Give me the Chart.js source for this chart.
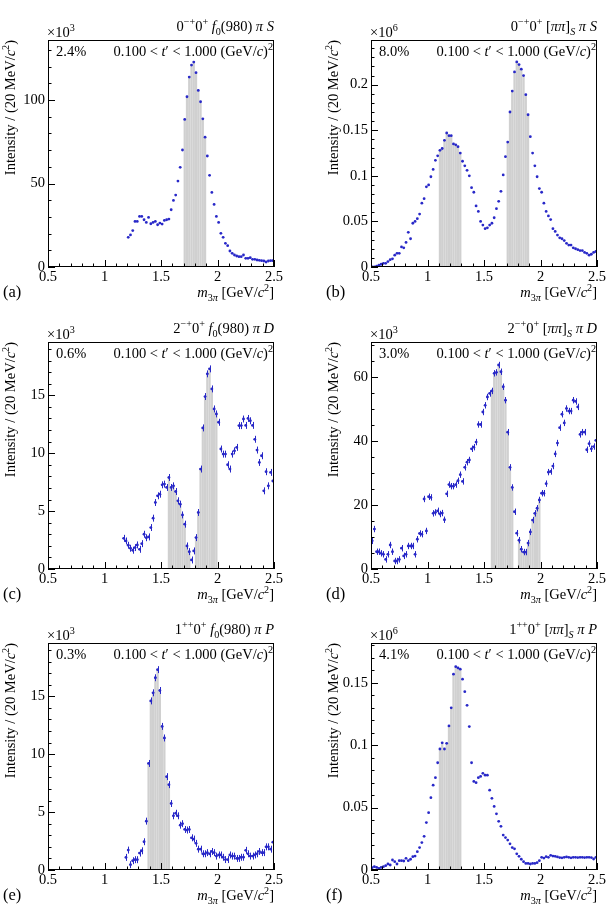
<!DOCTYPE html>
<html>
<head>
<meta charset="utf-8">
<script src="https://cdn.jsdelivr.net/npm/chart.js@4/dist/chart.umd.min.js"></script>
<style>
  body { margin: 0; background: #fff; width: 609px; height: 910px; position: relative; overflow: hidden; }
  canvas { position: absolute; }
</style>
</head>
<body>
<canvas id="pa" width="300" height="302" style="left:0;top:0"></canvas>
<canvas id="pb" width="286" height="302" style="left:323px;top:0"></canvas>
<canvas id="pc" width="300" height="302" style="left:0;top:302px"></canvas>
<canvas id="pd" width="286" height="302" style="left:323px;top:302px"></canvas>
<canvas id="pe" width="300" height="302" style="left:0;top:603px"></canvas>
<canvas id="pf" width="286" height="302" style="left:323px;top:603px"></canvas>
<script>
// bins are 20 MeV wide, values are given from the first filled bin centre on
const binWidth = 0.02;

// (a) 0-+0+ f0(980) pi S, x10^3
const startA = 1.21;
const valuesA = [
  17.8, 19.2, 21.8, 27.3, 27.3,
  30.3, 30.3, 28.3, 26.7, 29.7,
  25.9, 26.7, 27.3, 25.3, 26.3,
  25.7, 27.9, 28.3, 28.7, 34.3,
  39.9, 43.1, 51.5, 59.7, 70.1,
  88.4, 102, 113.8, 121, 122.8,
  116.4, 105.8, 99, 88.8, 77.8,
  66.5, 54.9, 44.7, 37.5, 30.3,
  26.7, 20.2, 17.8, 14.2, 12.8,
  9.6, 8.2, 7.2, 6.6, 6.2,
  6.2, 7.2, 5.2, 5.2, 5.6,
  4.6, 4.6, 4.2, 4.0, 3.8,
  3.6, 3.0, 3.6, 3.8, 3.8
];
const bandsA = [[1.70, 1.90]];

// (b) 0-+0+ [pipi]S pi S, x10^6
const startB = 0.51;
const valuesB = [
  0.000, 0.000, 0.001, 0.002, 0.003,
  0.004, 0.004, 0.006, 0.008, 0.009,
  0.013, 0.015, 0.015, 0.022, 0.021,
  0.027, 0.038, 0.031, 0.048, 0.050,
  0.053, 0.058, 0.070, 0.075, 0.088,
  0.090, 0.099, 0.107, 0.117, 0.122,
  0.128, 0.130, 0.139, 0.147, 0.144,
  0.144, 0.135, 0.134, 0.132, 0.125,
  0.116, 0.111, 0.106, 0.100, 0.087,
  0.082, 0.067, 0.061, 0.050, 0.046,
  0.042, 0.043, 0.046, 0.048, 0.054,
  0.064, 0.072, 0.083, 0.101, 0.121,
  0.137, 0.170, 0.193, 0.214, 0.225,
  0.222, 0.217, 0.210, 0.189, 0.167,
  0.143, 0.125, 0.111, 0.099, 0.086,
  0.082, 0.070, 0.061, 0.056, 0.052,
  0.042, 0.039, 0.035, 0.032, 0.031,
  0.029, 0.026, 0.024, 0.024, 0.021,
  0.020, 0.019, 0.018, 0.018, 0.016,
  0.015, 0.013, 0.014, 0.016, 0.017
];
const bandsB = [[1.10, 1.30], [1.70, 1.90]];

// (c) 2-+0+ f0(980) pi D, x10^3
const startC = 1.17;
const valuesC = [
  2.65, 2.42,
  2.05, 1.79, 1.62, 1.85, 2.08,
  1.70, 2.19, 3.0, 2.7, 2.77,
  3.58, 4.39, 5.74, 6.32, 6.46,
  7.27, 7.33, 7.04, 7.9, 7.04,
  7.18, 6.69, 5.89, 5.6, 4.67,
  3.87, 1.99, 1.5, 0.78, 1.56,
  2.71, 4.88, 8.63, 12.18, 14.89,
  16.85, 17.28, 15.55, 13.82, 13.39,
  12.67, 10.36, 9.92, 9.92, 9.0,
  8.63, 9.92, 10.2, 10.5, 12.38,
  12.38, 12.95, 12.4, 13.0, 12.8,
  12.4, 11.2, 10.27, 9.2, 9.78,
  6.75, 8.4, 7.18, 8.34, 7.6
];
const bandsC = [[1.56, 1.76], [1.80, 2.00]];
const errC = 0.3;

// (d) 2-+0+ [pipi]S pi D, x10^3
const startD = 0.51;
const valuesD = [
  8.8, 12.5, 5.4, 5.4, 4.9,
  4.6, 3.0, 4.6, 7.5, 5.4,
  2.5, 2.5, 3.0, 6.5, 4.1,
  4.6, 7.2, 7.2, 7.2, 4.6,
  9.3, 11.1, 10.9, 21.9, 11.9,
  22.6, 22.4, 17.4, 17.7, 18.2,
  17.2, 17.5, 15.4, 23.5, 26.4,
  25.9, 25.9, 26.4, 27.6, 29.5,
  27.4, 31.8, 33.4, 34.1, 37.6,
  38.1, 39.7, 45.2, 45.2, 49.1,
  51.2, 53.8, 54.9, 55.7, 61.2,
  61.5, 63.8, 61.7, 57.0, 52.8,
  42.8, 31.8, 25.5, 17.9, 11.2,
  9.0, 6.2, 5.3, 5.3, 8.1,
  11.6, 15.3, 17.4, 19.0, 21.6,
  23.7, 23.7, 26.7, 30.3, 30.5,
  32.2, 36.0, 39.4, 44.2, 48.4,
  45.7, 50.2, 49.4, 49.4, 52.8,
  52.4, 50.7, 42.1, 42.8, 42.8,
  37.3, 39.2, 37.6, 38.3, 40.2
];
const bandsD = [[1.56, 1.76], [1.80, 2.00]];
const errD = 1.0;

// (e) 1++0+ f0(980) pi P, x10^3
const startE = 1.19;
const valuesE = [
  1.09,
  1.72, 0.46, 0.80, 0.89, 0.89,
  1.46, 1.66, 2.44, 4.22, 9.2,
  14.6, 15.3, 16.6, 17.3, 15.5,
  12.4, 11.4, 8.06, 7.37, 5.74,
  4.68, 4.9, 4.68, 3.87, 4.0,
  3.5, 3.45, 3.5, 2.78, 2.67,
  2.3, 1.8, 1.8, 1.4, 1.4,
  1.5, 1.4, 1.6, 1.5, 1.2,
  1.3, 1.3, 1.1, 0.9, 0.9,
  1.3, 1.2, 1.2, 1.0, 1.0,
  1.1, 1.1, 1.7, 1.4, 1.2,
  1.2, 1.3, 1.4, 1.6, 1.5,
  1.5, 2.0, 2.0, 1.8, 2.4
];
const bandsE = [[1.38, 1.58]];
const errE = 0.3;

// (f) 1++0+ [pipi]S pi P, x10^6
const startF = 0.51;
const valuesF = [
  0.0019, 0.0027, 0.0021, 0.0013, 0.0021,
  0.0027, 0.0035, 0.0048, 0.0040, 0.0080,
  0.0067, 0.0048, 0.0075, 0.0075, 0.0072,
  0.0094, 0.0075, 0.0086, 0.0107, 0.0112,
  0.0147, 0.018, 0.022, 0.027, 0.038,
  0.046, 0.058, 0.068, 0.074, 0.086,
  0.097, 0.102, 0.097, 0.1016, 0.1155,
  0.130, 0.157, 0.163, 0.162, 0.161,
  0.153, 0.143, 0.132, 0.115, 0.086,
  0.071, 0.070, 0.074, 0.075, 0.0775,
  0.076, 0.076, 0.064, 0.0575, 0.051,
  0.045, 0.039, 0.035, 0.028, 0.026,
  0.024, 0.021, 0.018, 0.017, 0.013,
  0.011, 0.0086, 0.0067, 0.0053, 0.0053,
  0.0048, 0.0053, 0.0053, 0.0059, 0.0075,
  0.0102, 0.0096, 0.0107, 0.0102, 0.0118,
  0.0112, 0.011, 0.0105, 0.010, 0.0098,
  0.0102, 0.0105, 0.0102, 0.0098, 0.0102,
  0.0102, 0.010, 0.0102, 0.0102, 0.010,
  0.0102, 0.0102, 0.010, 0.0088, 0.0102
];
const bandsF = [[1.10, 1.30]];

const percents = ["2.4%", "8.0%", "0.6%", "3.0%", "0.3%", "4.1%"];
const panelLabels = ["(a)", "(b)", "(c)", "(d)", "(e)", "(f)"];

const FONT = "'Liberation Serif', 'Times New Roman', serif";
const BLUE = "rgb(40,40,200)";
const SIZE = 14.5;

const T = (t, i, s) => ({ t, i, s });

function waveTitle(j, pc, isobar, wave) {
  const iso = isobar === "f0"
    ? [T("f", 1), T("0", 0, "sub"), T("(980) ")]
    : [T("["), T("ππ", 1), T("]"), T("S", 1, "sub"), T(" ")];
  return [T(j), T(pc, 0, "sup"), T("0"), T("+", 0, "sup"), T(" "), ...iso, T("π", 1), T(" "), T(wave, 1)];
}

const tRange = [T("0.100 < "), T("t", 1), T("′ < 1.000 (GeV/"), T("c", 1), T(")"), T("2", 0, "sup")];
const xTitle = [T("m", 1), T("3", 0, "sub"), T("π", 1, "sub"), T(" [GeV/"), T("c", 1), T("2", 0, "sup"), T("]")];
const yTitle = [T("Intensity / (20 MeV/"), T("c", 1), T("2", 0, "sup"), T(")")];

function fontFor(seg, size) {
  const s = seg.s ? size * 0.7 : size;
  return (seg.i ? "italic " : "") + s + "px " + FONT;
}

function richWidth(ctx, segs, size) {
  let w = 0;
  for (const seg of segs) {
    ctx.font = fontFor(seg, size);
    w += ctx.measureText(seg.t).width;
  }
  return w;
}

function drawRich(ctx, segs, x, y, size, align) {
  let cx = align === "right" ? x - richWidth(ctx, segs, size) : x;
  ctx.textAlign = "left";
  ctx.textBaseline = "alphabetic";
  for (const seg of segs) {
    ctx.font = fontFor(seg, size);
    const dy = seg.s === "sup" ? -size * 0.42 : seg.s === "sub" ? size * 0.25 : 0;
    ctx.fillText(seg.t, cx, y + dy);
    cx += ctx.measureText(seg.t).width;
  }
}

const panels = [
  { id: "pa", start: startA, values: valuesA, bands: bandsA, err: 0, yMax: 136, yStep: 50, yMinor: 10, exp: "3", title: waveTitle("0", "−+", "f0", "S") },
  { id: "pb", start: startB, values: valuesB, bands: bandsB, err: 0, yMax: 0.249, yStep: 0.05, yMinor: 0.01, exp: "6", title: waveTitle("0", "−+", "pipi", "S") },
  { id: "pc", start: startC, values: valuesC, bands: bandsC, err: errC, yMax: 19.6, yStep: 5, yMinor: 1, exp: "3", title: waveTitle("2", "−+", "f0", "D") },
  { id: "pd", start: startD, values: valuesD, bands: bandsD, err: errD, yMax: 71, yStep: 20, yMinor: 5, exp: "3", title: waveTitle("2", "−+", "pipi", "D") },
  { id: "pe", start: startE, values: valuesE, bands: bandsE, err: errE, yMax: 19.6, yStep: 5, yMinor: 1, exp: "3", title: waveTitle("1", "++", "f0", "P") },
  { id: "pf", start: startF, values: valuesF, bands: bandsF, err: 0, yMax: 0.182, yStep: 0.05, yMinor: 0.01, exp: "6", title: waveTitle("1", "++", "pipi", "P") }
];

function rootStyle(panel, idx) {
  return {
    id: "rootStyle" + idx,
    afterDraw(chart) {
      const { ctx, chartArea: ca, scales: { x, y } } = chart;
      ctx.save();

      // error bars
      if (panel.err > 0) {
        ctx.strokeStyle = BLUE;
        ctx.lineWidth = 1;
        ctx.beginPath();
        chart.data.datasets[0].data.forEach(p => {
          const px = Math.round(x.getPixelForValue(p.x)) + 0.5;
          const py = y.getPixelForValue(p.y);
          ctx.moveTo(px, Math.min(ca.bottom, y.getPixelForValue(p.y - panel.err)));
          ctx.lineTo(px, y.getPixelForValue(p.y + panel.err));
          ctx.moveTo(x.getPixelForValue(p.x - binWidth / 2), py);
          ctx.lineTo(x.getPixelForValue(p.x + binWidth / 2), py);
        });
        ctx.stroke();
      }

      // frame
      ctx.strokeStyle = "#000";
      ctx.lineWidth = 1;
      ctx.strokeRect(ca.left + 0.5, ca.top + 0.5, ca.right - ca.left - 1, ca.bottom - ca.top - 1);

      // inward ticks
      ctx.beginPath();
      for (let k = 0; k <= 20; k++) {
        const v = 0.5 + k * 0.1;
        const px = Math.round(x.getPixelForValue(v)) + 0.5;
        const len = k % 5 === 0 ? 7 : 3.5;
        ctx.moveTo(px, ca.bottom);
        ctx.lineTo(px, ca.bottom - len);
      }
      for (let k = 0; k * panel.yMinor <= panel.yMax + 1e-9; k++) {
        const v = k * panel.yMinor;
        const r = v / panel.yStep;
        const major = Math.abs(r - Math.round(r)) < 1e-6;
        const py = Math.round(y.getPixelForValue(v)) + 0.5;
        ctx.moveTo(ca.left, py);
        ctx.lineTo(ca.left + (major ? 7 : 3.5), py);
      }
      ctx.stroke();

      // texts
      ctx.fillStyle = "#000";
      drawRich(ctx, panel.title, ca.right, ca.top - 9, SIZE, "right");
      drawRich(ctx, [T("×10"), T(panel.exp, 0, "sup")], ca.left - 1, ca.top - 3, SIZE, "left");
      drawRich(ctx, [T(percents[idx])], ca.left + 8, ca.top + 16, SIZE, "left");
      drawRich(ctx, tRange, ca.right - 1, ca.top + 16, SIZE, "right");
      drawRich(ctx, xTitle, ca.right, ca.bottom + 30, SIZE, "right");
      drawRich(ctx, [T(panelLabels[idx])], ca.left - 45, ca.bottom + 30, 16.5, "left");

      ctx.translate(ca.left - 33, ca.top);
      ctx.rotate(-Math.PI / 2);
      drawRich(ctx, yTitle, 0, 0, SIZE, "right");

      ctx.restore();
    }
  };
}

const tickFont = { family: FONT, size: SIZE };
const fmt = v => String(+Number(v).toFixed(3));

panels.forEach((panel, idx) => {
  const canvas = document.getElementById(panel.id);
  const pts = panel.values.map((v, i) => ({ x: +(panel.start + i * binWidth).toFixed(2), y: v }));
  const band = pts.filter(p => panel.bands.some(([lo, hi]) => p.x > lo && p.x < hi));

  new Chart(canvas, {
    type: "scatter",
    data: {
      datasets: [
        {
          type: "scatter",
          data: pts,
          backgroundColor: BLUE,
          borderColor: BLUE,
          pointRadius: 1.4,
          pointBorderWidth: 0,
          pointHoverRadius: 1.4,
          order: 0
        },
        {
          type: "bar",
          data: band,
          backgroundColor: "rgb(208,208,208)",
          borderWidth: 0,
          inflateAmount: 0,
          barPercentage: 1,
          categoryPercentage: 1,
          order: 1
        }
      ]
    },
    options: {
      responsive: false,
      animation: false,
      events: [],
      layout: { padding: { left: 0, right: canvas.width - 274, top: 40, bottom: 0 } },
      plugins: { legend: { display: false }, tooltip: { enabled: false } },
      scales: {
        x: {
          type: "linear",
          min: 0.5,
          max: 2.5,
          offset: false,
          grid: { display: false, drawTicks: false },
          border: { display: false },
          ticks: { stepSize: 0.5, font: tickFont, color: "#000", padding: 1, maxRotation: 0, callback: fmt },
          afterFit: s => { s.height = 35; }
        },
        y: {
          type: "linear",
          min: 0,
          max: panel.yMax,
          grid: { display: false, drawTicks: false },
          border: { display: false },
          ticks: { stepSize: panel.yStep, includeBounds: false, font: tickFont, color: "#000", padding: 3, callback: fmt },
          afterFit: s => { s.width = 48; }
        }
      }
    },
    plugins: [rootStyle(panel, idx)]
  });
});
</script>
</body>
</html>
